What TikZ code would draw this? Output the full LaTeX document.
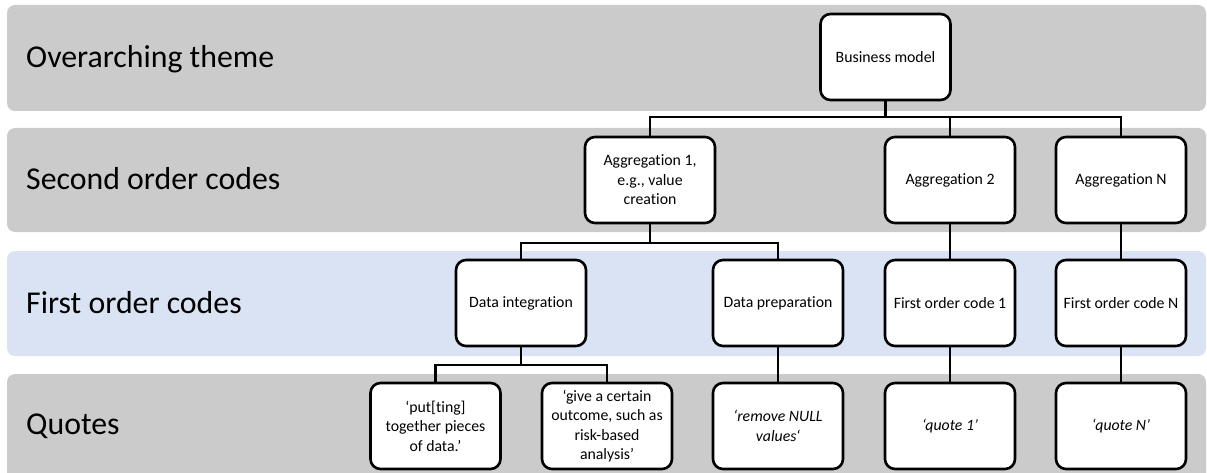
\documentclass[tikz,border=0pt]{standalone}
\usepackage{fontspec}
\setmainfont{Carlito}[Ligatures=NoCommon]
\definecolor{bandgrey}{RGB}{203,203,203}
\definecolor{bandblue}{RGB}{218,227,243}
\tikzset{band/.style={fill=#1, rounded corners=8pt},
  rowlabel/.style={anchor=base west, inner sep=0pt, font=\fontsize{31.8}{38}\selectfont},
  box/.style={draw, fill=white, line width=2.6pt, rounded corners=10pt, minimum width=130pt, minimum height=86pt,
    align=center, inner sep=2pt, font=\fontsize{15.8}{19.5}\selectfont},
  link/.style={line width=2.6pt}}

\begin{document}
\begin{tikzpicture}[x=1pt,y=-1pt]
  \useasboundingbox (0,0) rectangle (1207,473);
  \fill[band=bandgrey] (7,5)   rectangle (1206,111);
  \fill[band=bandgrey] (7,128) rectangle (1206,232);
  \fill[band=bandblue] (7,251) rectangle (1206,356);
  \fill[band=bandgrey] (7,374) rectangle (1206,482);
  \node[rowlabel] (l1) at (26,67.5) {Overarching theme};
  \node[rowlabel] (l2) at (26,189.5) {Second order codes};
  \node[rowlabel] (l3) at (26,313) {First order codes};
  \node[rowlabel] (l4) at (26,434) {Quotes};

  \node[box] (bm) at (885.5,57) {Business model};
  \node[box] (a1) at (650,180) {Aggregation 1,\\e.g., value\\creation};
  \node[box] (a2) at (950,180) {Aggregation 2};
  \node[box] (an) at (1121,180) {Aggregation N};
  \node[box] (f1) at (521,303) {Data integration};
  \node[box] (f2) at (778,303) {Data preparation};
  \node[box] (f3) at (950,303) {First order code 1};
  \node[box] (fn) at (1121,303) {First order code N};
  \node[box] (q1) at (435.5,426) {‘put[ting]\\together pieces\\of data.’};
  \node[box] (q2) at (607,426) {‘give a certain\\outcome, such as\\risk-based\\analysis’};
  \node[box] (q3) at (778,426) {\itshape ‘remove NULL\\\itshape values‘};
  \node[box] (q4) at (950,426) {\itshape ‘quote 1’};
  \node[box] (qn) at (1121,426) {\itshape ‘quote N’};

  \coordinate (j1) at (885.5,117);
  \coordinate (j2) at (650,243);
  \coordinate (j3) at (521,365);
  \draw[link] (bm) -- (j1);
  \draw[link] (a1) |- (j1) -| (an);
  \draw[link] (j1) -| (a2);
  \draw[link] (a1) -- (j2);
  \draw[link] (f1) |- (j2) -| (f2);
  \draw[link] (a2) -- (f3);
  \draw[link] (an) -- (fn);
  \draw[link] (f1) -- (j3);
  \draw[link] (q1) |- (j3) -| (q2);
  \draw[link] (f2) -- (q3);
  \draw[link] (f3) -- (q4);
  \draw[link] (fn) -- (qn);
\end{tikzpicture}
\end{document}
